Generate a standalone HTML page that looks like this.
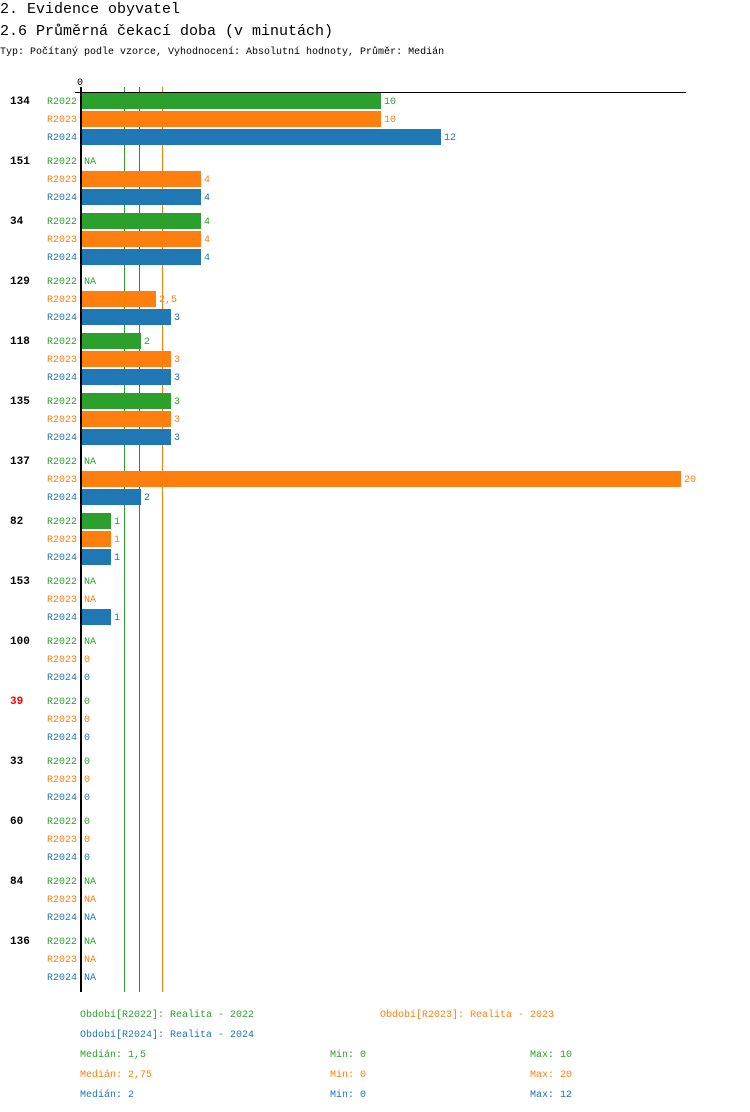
<!DOCTYPE html>
<html><head><meta charset="utf-8"><style>
html,body{margin:0;padding:0;background:#fff;}
svg{display:block;font-family:"Liberation Mono",monospace;}
.g{fill:#2ca02c}.o{fill:#ff7f0e}.b{fill:#1f77b4}
.s{font-size:10px}
.l{font-size:10px;text-anchor:end}
.n{font-size:11px;font-weight:bold}
</style></head><body>
<svg width="750" height="1112" viewBox="0 0 750 1112">
<text x="0" y="13" font-size="15">2. Evidence obyvatel</text>
<text x="0" y="35" font-size="15">2.6 Průměrná čekací doba (v minutách)</text>
<text x="0" y="54" font-size="10">Typ: Počítaný podle vzorce, Vyhodnocení: Absolutní hodnoty, Průměr: Medián</text>
<text x="77" y="85" font-size="10">0</text>

<!-- median lines -->
<line x1="124.5" y1="87" x2="124.5" y2="992" stroke="#2ca02c" stroke-width="1"/>
<line x1="139.5" y1="87" x2="139.5" y2="992" stroke="#1f77b4" stroke-width="1"/>
<line x1="162.5" y1="87" x2="162.5" y2="992" stroke="#ff7f0e" stroke-width="1"/>

<!-- bars -->
<rect x="81" y="93" width="300" height="16" class="g"/>
<rect x="81" y="111" width="300" height="16" class="o"/>
<rect x="81" y="129" width="360" height="16" class="b"/>
<rect x="81" y="171" width="120" height="16" class="o"/>
<rect x="81" y="189" width="120" height="16" class="b"/>
<rect x="81" y="213" width="120" height="16" class="g"/>
<rect x="81" y="231" width="120" height="16" class="o"/>
<rect x="81" y="249" width="120" height="16" class="b"/>
<rect x="81" y="291" width="75" height="16" class="o"/>
<rect x="81" y="309" width="90" height="16" class="b"/>
<rect x="81" y="333" width="60" height="16" class="g"/>
<rect x="81" y="351" width="90" height="16" class="o"/>
<rect x="81" y="369" width="90" height="16" class="b"/>
<rect x="81" y="393" width="90" height="16" class="g"/>
<rect x="81" y="411" width="90" height="16" class="o"/>
<rect x="81" y="429" width="90" height="16" class="b"/>
<rect x="81" y="471" width="600" height="16" class="o"/>
<rect x="81" y="489" width="60" height="16" class="b"/>
<rect x="81" y="513" width="30" height="16" class="g"/>
<rect x="81" y="531" width="30" height="16" class="o"/>
<rect x="81" y="549" width="30" height="16" class="b"/>
<rect x="81" y="609" width="30" height="16" class="b"/>

<!-- axes -->
<line x1="75" y1="92.5" x2="686" y2="92.5" stroke="#000" stroke-width="1"/>
<line x1="81" y1="87" x2="81" y2="992" stroke="#000" stroke-width="2"/>

<!-- group labels -->
<text x="10" y="104" class="n">134</text>
<text x="10" y="164" class="n">151</text>
<text x="10" y="224" class="n">34</text>
<text x="10" y="284" class="n">129</text>
<text x="10" y="344" class="n">118</text>
<text x="10" y="404" class="n">135</text>
<text x="10" y="464" class="n">137</text>
<text x="10" y="524" class="n">82</text>
<text x="10" y="584" class="n">153</text>
<text x="10" y="644" class="n">100</text>
<text x="10" y="704" class="n" fill="#ff0000">39</text>
<text x="10" y="764" class="n">33</text>
<text x="10" y="824" class="n">60</text>
<text x="10" y="884" class="n">84</text>
<text x="10" y="944" class="n">136</text>

<!-- row labels -->
<g class="l">
<text x="77" y="104" class="g">R2022</text><text x="77" y="122" class="o">R2023</text><text x="77" y="140" class="b">R2024</text>
<text x="77" y="164" class="g">R2022</text><text x="77" y="182" class="o">R2023</text><text x="77" y="200" class="b">R2024</text>
<text x="77" y="224" class="g">R2022</text><text x="77" y="242" class="o">R2023</text><text x="77" y="260" class="b">R2024</text>
<text x="77" y="284" class="g">R2022</text><text x="77" y="302" class="o">R2023</text><text x="77" y="320" class="b">R2024</text>
<text x="77" y="344" class="g">R2022</text><text x="77" y="362" class="o">R2023</text><text x="77" y="380" class="b">R2024</text>
<text x="77" y="404" class="g">R2022</text><text x="77" y="422" class="o">R2023</text><text x="77" y="440" class="b">R2024</text>
<text x="77" y="464" class="g">R2022</text><text x="77" y="482" class="o">R2023</text><text x="77" y="500" class="b">R2024</text>
<text x="77" y="524" class="g">R2022</text><text x="77" y="542" class="o">R2023</text><text x="77" y="560" class="b">R2024</text>
<text x="77" y="584" class="g">R2022</text><text x="77" y="602" class="o">R2023</text><text x="77" y="620" class="b">R2024</text>
<text x="77" y="644" class="g">R2022</text><text x="77" y="662" class="o">R2023</text><text x="77" y="680" class="b">R2024</text>
<text x="77" y="704" class="g">R2022</text><text x="77" y="722" class="o">R2023</text><text x="77" y="740" class="b">R2024</text>
<text x="77" y="764" class="g">R2022</text><text x="77" y="782" class="o">R2023</text><text x="77" y="800" class="b">R2024</text>
<text x="77" y="824" class="g">R2022</text><text x="77" y="842" class="o">R2023</text><text x="77" y="860" class="b">R2024</text>
<text x="77" y="884" class="g">R2022</text><text x="77" y="902" class="o">R2023</text><text x="77" y="920" class="b">R2024</text>
<text x="77" y="944" class="g">R2022</text><text x="77" y="962" class="o">R2023</text><text x="77" y="980" class="b">R2024</text>
</g>

<!-- values -->
<g class="s">
<text x="384" y="104" class="g">10</text><text x="384" y="122" class="o">10</text><text x="444" y="140" class="b">12</text>
<text x="84" y="164" class="g">NA</text><text x="204" y="182" class="o">4</text><text x="204" y="200" class="b">4</text>
<text x="204" y="224" class="g">4</text><text x="204" y="242" class="o">4</text><text x="204" y="260" class="b">4</text>
<text x="84" y="284" class="g">NA</text><text x="159" y="302" class="o">2,5</text><text x="174" y="320" class="b">3</text>
<text x="144" y="344" class="g">2</text><text x="174" y="362" class="o">3</text><text x="174" y="380" class="b">3</text>
<text x="174" y="404" class="g">3</text><text x="174" y="422" class="o">3</text><text x="174" y="440" class="b">3</text>
<text x="84" y="464" class="g">NA</text><text x="684" y="482" class="o">20</text><text x="144" y="500" class="b">2</text>
<text x="114" y="524" class="g">1</text><text x="114" y="542" class="o">1</text><text x="114" y="560" class="b">1</text>
<text x="84" y="584" class="g">NA</text><text x="84" y="602" class="o">NA</text><text x="114" y="620" class="b">1</text>
<text x="84" y="644" class="g">NA</text><text x="84" y="662" class="o">0</text><text x="84" y="680" class="b">0</text>
<text x="84" y="704" class="g">0</text><text x="84" y="722" class="o">0</text><text x="84" y="740" class="b">0</text>
<text x="84" y="764" class="g">0</text><text x="84" y="782" class="o">0</text><text x="84" y="800" class="b">0</text>
<text x="84" y="824" class="g">0</text><text x="84" y="842" class="o">0</text><text x="84" y="860" class="b">0</text>
<text x="84" y="884" class="g">NA</text><text x="84" y="902" class="o">NA</text><text x="84" y="920" class="b">NA</text>
<text x="84" y="944" class="g">NA</text><text x="84" y="962" class="o">NA</text><text x="84" y="980" class="b">NA</text>
</g>

<!-- legend -->
<g class="s">
<text x="80" y="1017" class="g">Období[R2022]: Realita - 2022</text>
<text x="380" y="1017" class="o">Období[R2023]: Realita - 2023</text>
<text x="80" y="1037" class="b">Období[R2024]: Realita - 2024</text>
<text x="80" y="1057" class="g">Medián: 1,5</text><text x="330" y="1057" class="g">Min: 0</text><text x="530" y="1057" class="g">Max: 10</text>
<text x="80" y="1077" class="o">Medián: 2,75</text><text x="330" y="1077" class="o">Min: 0</text><text x="530" y="1077" class="o">Max: 20</text>
<text x="80" y="1097" class="b">Medián: 2</text><text x="330" y="1097" class="b">Min: 0</text><text x="530" y="1097" class="b">Max: 12</text>
</g>
</svg>
</body></html>
